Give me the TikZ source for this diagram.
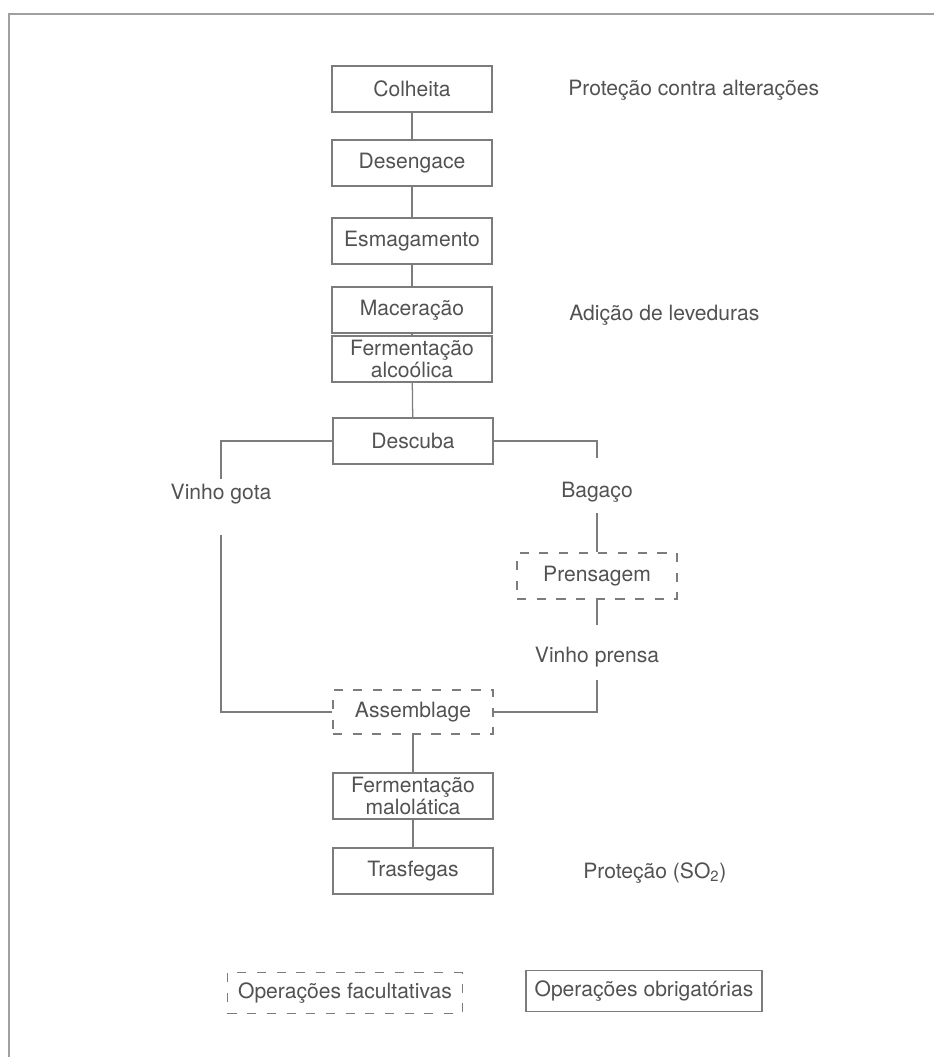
\documentclass[tikz,border=0pt]{standalone}
\usepackage{fontspec}
\setmainfont{TeX Gyre Heros}
\usetikzlibrary{positioning}
\definecolor{inkgrey}{HTML}{525252}
\definecolor{linegrey}{HTML}{7C7C7C}
\definecolor{framegrey}{HTML}{A0A0A0}
\tikzset{
  stage/.style={draw=linegrey,line width=0.9pt,text=inkgrey,minimum width=4cm,
    minimum height=1.15cm,inner sep=2pt,align=center,
    font=\fontsize{15}{15.6}\selectfont},
  optstage/.style={stage,dash pattern=on 6.5pt off 7.5pt},
  lbl/.style={text=inkgrey,inner sep=0pt,text height=11pt,text depth=3.2pt,
    font=\fontsize{15}{15.6}\selectfont},
  link/.style={draw=linegrey,line width=0.9pt},
}
\begin{document}
\begin{tikzpicture}[x=0.025cm,y=-0.025cm]
\useasboundingbox (0,0) rectangle (934,1057);
\draw[framegrey,line width=0.9pt] (9,1057) -- (9,14) -- (934,14);

% main line
\node[stage] (colheita) at (412,89) {Colheita};
\node[stage] (desengace) at (412,163) {Desengace};
\node[stage] (esmag) at (412,241) {Esmagamento};
\node[stage] (macer) at (412,310) {Maceração};
\node[stage] (fermalc) at (412,359) {Fermentação\\alcoólica};
\node[stage] (descuba) at (413,441) {Descuba};

\node[lbl] (gota) at (221,494) {Vinho gota};
\node[lbl] (bagaco) at (597,492) {Bagaço};
\node[optstage] (prensagem) at (597,576) {Prensagem};
\node[lbl] (vprensa) at (597,657) {Vinho prensa};

\node[optstage,minimum height=1.1cm] (assemblage) at (413,712) {Assemblage};
\node[stage] (fermmalo) at (413,796) {Fermentação\\malolática};
\node[stage] (trasfegas) at (413,871) {Trasfegas};

% notes on the right
\node[lbl,anchor=west] (protecao) at (568,90) {Proteção contra alterações};
\node[lbl,anchor=west] (leveduras) at (569,315) {Adição de leveduras};
\node[lbl,anchor=west] (so2) at (583,873) {Proteção (SO\textsubscript{2})};

% legend
\node[optstage,minimum width=5.875cm,minimum height=1.025cm] (facult) at (345,993) {Operações facultativas};
\node[stage,minimum width=5.9cm,minimum height=1.025cm] (obrig) at (644,991) {Operações obrigatórias};

\draw[link] (colheita) -- (desengace);
\draw[link] (desengace) -- (esmag);
\draw[link] (esmag) -- (macer);
\draw[link] (macer) -- (fermalc);
\draw[link] (fermalc) -- (descuba);

\draw[link,shorten >=0.125cm] (descuba.west) -| (gota.north);
\draw[link,shorten <=0.775cm] (gota.south) |- (assemblage.west);
\draw[link,shorten >=0.6cm] (descuba.east) -| (bagaco.north);
\draw[link,shorten <=0.275cm] (bagaco.south) -- (prensagem.north);
\draw[link,shorten >=0.55cm] (prensagem.south) -- (vprensa.north);
\draw[link,shorten <=0.325cm] (vprensa.south) |- (assemblage.east);

\draw[link] (assemblage) -- (fermmalo);
\draw[link] (fermmalo) -- (trasfegas);
\end{tikzpicture}
\end{document}
